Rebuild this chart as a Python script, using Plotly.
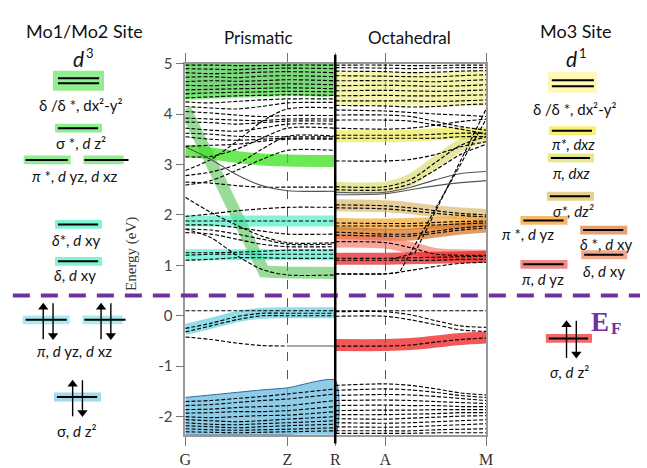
import plotly.graph_objects as go

# ---------------------------------------------------------------- k-path
K_LABELS = ["G", "Z", "R", "A", "M"]
K_TICKS = [0.0, 1.0, 1.47, 1.96, 2.95]
K_PRISM = [0.0, 0.25, 0.5, 0.75, 1.0, 1.47]      # G ... Z ... R
K_OCTA = [1.47, 1.96, 2.21, 2.46, 2.70, 2.95]     # R ... A ... M

Y_MIN, Y_MAX = -2.36, 5.0
Y_TICKS = [-2, -1, 0, 1, 2, 3, 4, 5]
Y_TICK_TEXT = ["-2", "-1", "0", "1", "2", "3", "4", "5"]
E_FERMI = 0.4

# ---------------------------------------------------------------- prismatic bands (eV at K_PRISM)
PRISM_BANDS = [
    [4.97, 4.97, 4.96, 4.96, 4.97, 4.97],
    [4.90, 4.89, 4.88, 4.90, 4.91, 4.90],
    [4.82, 4.80, 4.81, 4.83, 4.84, 4.82],
    [4.73, 4.74, 4.72, 4.75, 4.76, 4.74],
    [4.64, 4.66, 4.65, 4.66, 4.68, 4.66],
    [4.57, 4.56, 4.58, 4.59, 4.60, 4.58],
    [4.48, 4.49, 4.50, 4.51, 4.52, 4.50],
    [4.40, 4.42, 4.43, 4.44, 4.45, 4.44],
    [4.32, 4.34, 4.36, 4.37, 4.38, 4.37],
    [4.24, 4.22, 4.25, 4.28, 4.30, 4.30],
    [4.15, 4.12, 4.10, 4.15, 4.22, 4.23],
    [4.05, 4.02, 3.98, 3.95, 3.97, 3.97],
    [3.92, 3.90, 3.88, 3.87, 3.90, 3.90],
    [3.84, 3.83, 3.80, 3.83, 3.86, 3.86],
    [3.72, 3.68, 3.66, 3.72, 3.80, 3.80],
    [3.62, 3.60, 3.56, 3.55, 3.55, 3.55],
    [3.55, 3.50, 3.48, 3.50, 3.52, 3.52],
    [3.36, 3.38, 3.40, 3.46, 3.50, 3.50],
    [3.15, 3.16, 3.30, 3.52, 3.72, 3.72],
    [2.88, 3.10, 3.45, 3.85, 4.10, 4.12],
    [2.78, 2.85, 3.00, 3.30, 3.56, 3.56],
    [2.59, 2.68, 2.88, 3.10, 3.28, 3.28],
    [2.65, 2.63, 2.58, 2.55, 2.55, 2.55],
    [1.97, 2.02, 2.08, 2.12, 2.15, 2.15],
    [2.35, 2.05, 1.80, 1.58, 1.45, 1.45],
    [1.80, 1.80, 1.75, 1.68, 1.62, 1.62],
    [1.88, 1.88, 1.88, 1.88, 1.88, 1.88],
    [1.72, 1.70, 1.62, 1.52, 1.42, 1.42],
    [1.65, 1.62, 1.52, 1.42, 1.37, 1.37],
    [1.25, 1.25, 1.26, 1.28, 1.30, 1.30],
    [1.20, 1.22, 1.22, 1.22, 1.22, 1.22],
    [1.10, 1.12, 1.15, 1.15, 1.14, 1.14],
    [1.72, 1.55, 1.20, 0.92, 0.81, 0.81],
    [0.10, 0.10, 0.10, 0.10, 0.10, 0.10],
    [-0.25, -0.15, -0.02, 0.05, 0.05, 0.05],
    [-0.32, -0.20, -0.08, 0.00, 0.00, 0.00],
    [-1.70, -1.68, -1.64, -1.60, -1.55, -1.45],
    [-1.78, -1.76, -1.72, -1.68, -1.65, -1.55],
    [-1.86, -1.85, -1.82, -1.80, -1.78, -1.68],
    [-1.93, -1.92, -1.90, -1.90, -1.88, -1.80],
    [-2.00, -2.02, -2.00, -1.98, -1.97, -1.90],
    [-2.06, -2.08, -2.10, -2.08, -2.05, -2.00],
    [-2.12, -2.15, -2.16, -2.14, -2.12, -2.08],
    [-2.18, -2.20, -2.22, -2.20, -2.18, -2.15],
    [-2.24, -2.26, -2.27, -2.26, -2.25, -2.22],
    [-2.30, -2.31, -2.32, -2.31, -2.30, -2.28],
]
PRISM_SOLID = [3.35, 3.10, 2.80, 2.58, 2.48, 2.47]
# band just below E_F: dashed from G to Z, plain line from Z to R
PRISM_LOW_K = [0.0, 0.25, 0.5, 0.75, 1.0]
PRISM_LOW = [-0.42, -0.47, -0.54, -0.59, -0.60]
PRISM_LOW_ZR = [-0.60, -0.60]

# orbital-character highlights, prismatic branch
PRISM_GREEN_BOTTOM = [4.30, 4.32, 4.34, 4.36, 4.38, 4.38]
PRISM_BLUE_TOP = [-1.62, -1.57, -1.52, -1.47, -1.43, -1.28]
PRISM_DIAG_K = [0.0, 0.77, 1.0, 1.47]
PRISM_DIAG = [4.10, 0.88, 0.86, 0.85]
PRISM_PI_STAR = [3.27, 3.22, 3.15, 3.10, 3.08, 3.07]
PRISM_DELTA_STAR = [1.88, 1.88, 1.88, 1.88, 1.88, 1.88]
PRISM_DELTA = [1.21, 1.21, 1.21, 1.21, 1.21, 1.21]
PRISM_PI = [-0.27, -0.15, -0.02, 0.05, 0.06, 0.06]

# ---------------------------------------------------------------- octahedral bands (eV at K_OCTA)
OCTA_BANDS = [
    [4.97, 4.97, 4.96, 4.96, 4.97, 4.97],
    [4.92, 4.91, 4.90, 4.91, 4.92, 4.92],
    [4.85, 4.84, 4.82, 4.83, 4.85, 4.86],
    [4.76, 4.75, 4.74, 4.74, 4.76, 4.78],
    [4.66, 4.66, 4.65, 4.64, 4.66, 4.68],
    [4.56, 4.57, 4.56, 4.55, 4.56, 4.58],
    [4.46, 4.47, 4.46, 4.45, 4.46, 4.48],
    [4.36, 4.37, 4.36, 4.36, 4.37, 4.38],
    [4.26, 4.26, 4.26, 4.25, 4.26, 4.28],
    [4.17, 4.16, 4.14, 4.15, 4.18, 4.20],
    [4.08, 4.06, 4.03, 4.00, 3.98, 3.95],
    [3.98, 3.98, 3.95, 3.85, 3.75, 3.68],
    [3.88, 3.88, 3.86, 3.78, 3.70, 3.60],
    [3.72, 3.70, 3.72, 3.78, 3.85, 3.90],
    [3.58, 3.58, 3.58, 3.60, 3.62, 3.62],
    [3.52, 3.52, 3.52, 3.52, 3.55, 3.55],
    [3.07, 3.07, 3.10, 3.20, 3.35, 3.45],
    [2.56, 2.56, 2.70, 3.05, 3.38, 3.55],
    [2.50, 2.50, 2.62, 2.90, 3.20, 3.40],
    [2.20, 2.18, 2.14, 2.08, 2.03, 2.00],
    [2.14, 2.12, 2.08, 2.03, 1.99, 1.96],
    [1.84, 1.83, 1.83, 1.85, 1.87, 1.88],
    [1.78, 1.78, 1.78, 1.80, 1.82, 1.84],
    [1.66, 1.62, 1.62, 1.68, 1.74, 1.78],
    [1.60, 1.58, 1.58, 1.64, 1.70, 1.74],
    [1.47, 1.45, 1.35, 1.22, 1.20, 1.20],
    [1.14, 1.14, 1.15, 1.16, 1.17, 1.18],
    [1.10, 1.10, 1.10, 1.10, 1.12, 1.12],
    [0.83, 0.83, 0.90, 0.98, 1.04, 1.06],
    [0.10, 0.10, 0.10, 0.10, 0.10, 0.10],
    [0.08, 0.08, 0.02, -0.10, -0.20, -0.23],
    [-0.01, -0.01, -0.08, -0.18, -0.28, -0.31],
    [-0.60, -0.60, -0.58, -0.52, -0.47, -0.44],
    [-1.38, -1.35, -1.38, -1.45, -1.53, -1.57],
    [-1.48, -1.45, -1.47, -1.52, -1.58, -1.62],
    [-1.58, -1.56, -1.57, -1.60, -1.64, -1.68],
    [-1.68, -1.67, -1.68, -1.70, -1.72, -1.74],
    [-1.78, -1.77, -1.78, -1.78, -1.80, -1.80],
    [-1.88, -1.87, -1.87, -1.86, -1.86, -1.86],
    [-1.96, -1.96, -1.95, -1.94, -1.92, -1.92],
    [-2.04, -2.05, -2.03, -2.01, -1.99, -1.98],
    [-2.12, -2.13, -2.12, -2.10, -2.08, -2.06],
    [-2.20, -2.21, -2.20, -2.18, -2.16, -2.14],
    [-2.28, -2.28, -2.28, -2.26, -2.25, -2.24],
    [-2.33, -2.33, -2.33, -2.32, -2.32, -2.32],
]
OCTA_SOLID = [
    [2.45, 2.45, 2.55, 2.70, 2.82, 2.86],
    [2.40, 2.42, 2.50, 2.58, 2.64, 2.68],
]
# two steep, nearly straight bands climbing from A towards M
OCTA_STEEP_K = [[1.47, 1.96, 2.10, 2.95], [2.02, 2.25, 2.95]]
OCTA_STEEP = [[0.83, 0.83, 0.86, 3.90], [1.12, 1.24, 4.10]]

# orbital-character highlights, octahedral branch
OCTA_YELLOW_TOP = [4.84, 4.84, 4.83, 4.83, 4.84, 4.85]
OCTA_YELLOW_BOTTOM = [4.18, 4.18, 4.17, 4.17, 4.18, 4.18]
OCTA_PI_STAR = [3.56, 3.56, 3.57, 3.60, 3.62, 3.62]
OCTA_PI = [2.54, 2.54, 2.70, 3.05, 3.38, 3.58]
OCTA_SIGMA_STAR = [2.19, 2.17, 2.13, 2.07, 2.03, 2.00]
OCTA_PI_STAR_YZ = [1.82, 1.81, 1.82, 1.84, 1.86, 1.87]
OCTA_DELTA_STAR = [1.64, 1.61, 1.61, 1.67, 1.73, 1.77]
OCTA_DELTA = [1.47, 1.45, 1.35, 1.22, 1.20, 1.19]
OCTA_PI_YZ = [1.13, 1.13, 1.14, 1.15, 1.16, 1.17]
OCTA_SIGMA = [-0.58, -0.58, -0.56, -0.51, -0.46, -0.43]

# ---------------------------------------------------------------- schematic d-level energies (eV)
MO12_DX2Y2 = [4.71, 4.61]
MO12_SIGMA_STAR = 3.72
MO12_PI_STAR = 3.09
MO12_DELTA_STAR = 1.81
MO12_DELTA = 1.08
MO12_PI = -0.08
MO12_SIGMA = -1.61

MO3_DX2Y2 = [4.67, 4.55]
MO3_PI_STAR_XZ = 3.67
MO3_PI_XZ = 3.13
MO3_SIGMA_STAR = 2.37
MO3_PI_STAR_YZ = 1.89
MO3_DELTA_STAR = 1.70
MO3_DELTA = 1.21
MO3_PI_YZ = 1.02
MO3_SIGMA = -0.45

# ---------------------------------------------------------------- geometry of the canvas
W, H = 647, 468
PLOT_L, PLOT_R, PLOT_T, PLOT_B = 183, 490, 55, 436
PX_PER_EV = (PLOT_B - PLOT_T) / (Y_MAX - Y_MIN)
Y2_TOP = Y_MAX + PLOT_T / PX_PER_EV
Y2_BOT = Y_MIN - (H - PLOT_B) / PX_PER_EV
BOX_HALF = 4.5 / PX_PER_EV

SANS = "Lato, Carlito, Calibri, sans-serif"
SERIF = "Liberation Serif, Times New Roman, serif"

fig = go.Figure()


def band(k, e, color="black", width=1.15, dash="4px,2px", shape="spline"):
    fig.add_trace(go.Scatter(
        x=k, y=e, mode="lines", hoverinfo="skip", showlegend=False,
        line=dict(color=color, width=width, dash=dash, shape=shape, smoothing=0.8)))


def highlight(k, e, color, width=12, shape="spline"):
    fig.add_trace(go.Scatter(
        x=k, y=e, mode="lines", hoverinfo="skip", showlegend=False,
        line=dict(color=color, width=width, shape=shape, smoothing=0.8)))


def region(k, top, bottom, color, edge=None):
    fig.add_trace(go.Scatter(
        x=list(k) + list(k)[::-1], y=list(top) + list(bottom)[::-1],
        mode="lines", fill="toself", fillcolor=color, hoverinfo="skip",
        showlegend=False,
        line=dict(color=edge or "rgba(0,0,0,0)", width=1, shape="spline", smoothing=0.6)))


# ---- coloured orbital-character regions and ribbons (underneath the bands)
region(K_PRISM, [Y_MAX] * len(K_PRISM), PRISM_GREEN_BOTTOM, "rgba(45,190,45,0.62)")
highlight(K_PRISM, [e + 0.05 for e in PRISM_GREEN_BOTTOM], "rgba(120,235,110,0.55)", width=8)
region(K_PRISM, PRISM_BLUE_TOP, [Y_MIN] * len(K_PRISM), "rgba(110,190,225,0.78)",
       edge="rgba(30,90,140,0.9)")
highlight(PRISM_DIAG_K, PRISM_DIAG, "rgba(70,190,70,0.55)", width=12, shape="linear")
highlight(K_PRISM, PRISM_PI_STAR, "rgba(60,225,30,0.75)")
highlight(K_PRISM, PRISM_DELTA_STAR, "rgba(50,235,190,0.6)", width=11)
highlight(K_PRISM, PRISM_DELTA, "rgba(50,235,200,0.6)", width=11)
highlight(K_PRISM, PRISM_PI, "rgba(70,200,215,0.6)", width=11)

region(K_OCTA, OCTA_YELLOW_TOP, OCTA_YELLOW_BOTTOM, "rgba(238,238,120,0.6)")
highlight(K_OCTA, OCTA_PI_STAR, "rgba(232,232,60,0.62)")
highlight(K_OCTA, OCTA_PI, "rgba(215,215,95,0.62)")
highlight(K_OCTA, OCTA_SIGMA_STAR, "rgba(215,180,95,0.65)")
highlight(K_OCTA, OCTA_PI_STAR_YZ, "rgba(242,165,45,0.7)")
highlight(K_OCTA, OCTA_DELTA_STAR, "rgba(212,112,30,0.7)")
highlight(K_OCTA, OCTA_DELTA, "rgba(245,110,90,0.62)")
highlight(K_OCTA, OCTA_PI_YZ, "rgba(230,30,30,0.72)")
highlight(K_OCTA, OCTA_SIGMA, "rgba(240,40,40,0.78)")

# ---- DFT bands
for e in PRISM_BANDS:
    band(K_PRISM, e)
band(K_PRISM, PRISM_SOLID, color="#555", width=1.1, dash="solid")
band(PRISM_LOW_K, PRISM_LOW)
band(K_PRISM[-2:], PRISM_LOW_ZR, color="#555", width=1.1, dash="solid", shape="linear")
for e in OCTA_BANDS:
    band(K_OCTA, e)
for e in OCTA_SOLID:
    band(K_OCTA, e, color="#555", width=1.1, dash="solid")
for k, e in zip(OCTA_STEEP_K, OCTA_STEEP):
    band(k, e, shape="linear")

shapes = []
annotations = []


def level(x0, x1, e, box_color, lx0=None, lx1=None, box_lo=None, box_hi=None, lines=None):
    lo = box_lo if box_lo is not None else e - BOX_HALF
    hi = box_hi if box_hi is not None else e + BOX_HALF
    shapes.append(dict(type="rect", xref="x2", yref="y2", x0=x0, x1=x1, y0=lo, y1=hi,
                       fillcolor=box_color, line=dict(width=0), layer="below"))
    for le in (lines if lines is not None else [e]):
        shapes.append(dict(type="line", xref="x2", yref="y2",
                           x0=lx0 if lx0 is not None else x0 + 3,
                           x1=lx1 if lx1 is not None else x1 - 4,
                           y0=le, y1=le, line=dict(color="black", width=2), layer="below"))


def text(x, e, s, size=15, font=SANS, color="#111", **kw):
    annotations.append(dict(xref="x2", yref="y2", x=x, y=e, text=s, showarrow=False,
                            font=dict(family=font, size=size, color=color), **kw))


def spin(x, tail, head):
    """Electron spin arrow drawn as a stem plus a triangular head."""
    up = head > tail
    sgn = 1 if up else -1
    fig.add_trace(go.Scatter(x=[x, x], y=[tail, head - sgn * 5 / PX_PER_EV],
                             xaxis="x2", yaxis="y2", mode="lines",
                             line=dict(color="black", width=1.4),
                             hoverinfo="skip", showlegend=False))
    fig.add_trace(go.Scatter(x=[x], y=[head - sgn * 4 / PX_PER_EV],
                             xaxis="x2", yaxis="y2", mode="markers",
                             marker=dict(symbol="triangle-up" if up else "triangle-down",
                                         size=9, color="black", line=dict(width=0)),
                             hoverinfo="skip", showlegend=False))


def e_of(px):
    return Y_MAX - (px - PLOT_T) / PX_PER_EV


# ---- Mo1/Mo2 site column
GREEN = "#90ee90"
AQUA = "#7ff5d6"
level(48, 100, sum(MO12_DX2Y2) / 2, GREEN, lx0=53, lx1=95,
      box_lo=MO12_DX2Y2[1] - 0.15, box_hi=MO12_DX2Y2[0] + 0.15, lines=MO12_DX2Y2)
level(50, 98, MO12_SIGMA_STAR, GREEN)
level(18, 66, MO12_PI_STAR, GREEN, lx0=20, lx1=63)
level(79, 120, MO12_PI_STAR, GREEN, lx0=80, lx1=125)
level(50, 98, MO12_DELTA_STAR, AQUA)
level(50, 98, MO12_DELTA, AQUA)
level(17, 65, MO12_PI, "#a8ecf2", lx0=20, lx1=62)
level(78, 119, MO12_PI, "#a8ecf2", lx0=80, lx1=122)
level(49, 97, MO12_SIGMA, "#a3d9ec")

spin(38, e_of(338), e_of(301))
spin(48, e_of(301), e_of(338))
spin(97, e_of(338), e_of(301))
spin(107, e_of(301), e_of(338))
spin(68, e_of(417), e_of(380))
spin(78, e_of(380), e_of(417))

text(80, e_of(22), "Mo1/Mo2 Site", size=18)
text(74, e_of(50), "<i>d</i>", size=21)
text(86, e_of(44), "3", size=13)
text(76, e_of(98), "δ /δ *, dx²-y²")
text(77, e_of(136), "σ *, <i>d</i> z²")
text(70, e_of(170), "<i>π</i> *, <i>d</i> yz, <i>d</i> xz")
text(72, e_of(236), "<i>δ</i>*, <i>d</i> xy")
text(70, e_of(272), "<i>δ</i>, <i>d</i> xy")
text(70, e_of(350), "<i>π</i>, <i>d</i> yz, <i>d</i> xz")
text(72, e_of(432), "σ, <i>d</i> z²")

# ---- Mo3 site column
level(553, 603, sum(MO3_DX2Y2) / 2, "#fff7b5", lx0=557, lx1=600,
      box_lo=MO3_DX2Y2[1] - 0.13, box_hi=MO3_DX2Y2[0] + 0.17, lines=MO3_DX2Y2)
level(554, 602, MO3_PI_STAR_XZ, "#f8f070")
level(553, 600, MO3_PI_XZ, "#e6e68a")
level(552, 600, MO3_SIGMA_STAR, "#e8d08c")
level(525, 573, MO3_PI_STAR_YZ, "#f8b868")
level(586, 634, MO3_DELTA_STAR, "#e8a070")
level(587, 634, MO3_DELTA, "#f2a88a")
level(525, 573, MO3_PI_YZ, "#f08888")
level(551, 598, MO3_SIGMA, "#f26868")

spin(572, e_of(357), e_of(319))
spin(582, e_of(319), e_of(357))

text(582, e_of(22), "Mo3 Site", size=18)
text(577, e_of(50), "<i>d</i>", size=21)
text(589, e_of(44), "1", size=13)
text(580, e_of(102), "δ /δ *, dx²-y²")
text(579, e_of(138), "<i>π*, dxz</i>")
text(577, e_of(167), "<i>π, dxz</i>")
text(580, e_of(206), "<i>σ*, dz²</i>")
text(533, e_of(230), "<i>π</i> *, <i>d</i> yz")
text(612, e_of(240), "<i>δ</i> *, <i>d</i> xy")
text(610, e_of(268), "<i>δ</i>, <i>d</i> xy")
text(548, e_of(276), "<i>π</i>, <i>d</i> yz")
text(575, e_of(372), "<i>σ</i>, <i>d</i> z²")

# ---- panel titles, axis title, Fermi level
text(258, e_of(28), "Prismatic", size=17)
text(412, e_of(28), "Octahedral", size=17)
text(128, e_of(250), "Energy (eV)", size=15, font=SERIF, color="#333", textangle=-90)
text(606, e_of(320), "<b>E</b>", size=27, font=SERIF, color="#7030a0")
text(622, e_of(327), "<b>F</b>", size=17, font=SERIF, color="#7030a0")

shapes.append(dict(type="line", xref="x2", yref="y2", x0=7, x1=W, y0=E_FERMI, y1=E_FERMI,
                   line=dict(color="#7030a0", width=4, dash="17px,11px"), layer="above"))
# prismatic / octahedral boundary at R
shapes.append(dict(type="line", xref="x", yref="y2", x0=K_TICKS[2], x1=K_TICKS[2],
                   y0=e_of(PLOT_B + 9), y1=e_of(PLOT_T - 9),
                   line=dict(color="black", width=2.5), layer="above"))

fig.update_layout(
    width=W, height=H,
    margin=dict(l=0, r=0, t=0, b=0),
    paper_bgcolor="white", plot_bgcolor="rgba(0,0,0,0)",
    shapes=shapes, annotations=annotations,
    xaxis=dict(domain=[PLOT_L / W, PLOT_R / W], range=[K_TICKS[0], K_TICKS[-1]],
               tickvals=K_TICKS, ticktext=K_LABELS, ticks="outside", ticklen=9,
               tickcolor="#777", tickwidth=1.2,
               tickfont=dict(family=SERIF, size=16, color="#333"),
               showgrid=True, gridcolor="#555", griddash="dash", gridwidth=1,
               showline=True, linecolor="#999", linewidth=1.6, mirror="ticks",
               zeroline=False, fixedrange=True),
    yaxis=dict(domain=[(H - PLOT_B) / H, (H - PLOT_T) / H], range=[Y_MIN, Y_MAX],
               tickvals=Y_TICKS, ticktext=Y_TICK_TEXT, ticks="outside", ticklen=8,
               tickcolor="#777", tickwidth=1.2,
               tickfont=dict(family=SANS, size=15, color="#444"),
               showgrid=False, showline=True, linecolor="#999", linewidth=1.6,
               mirror=True, zeroline=False, fixedrange=True),
    xaxis2=dict(domain=[0, 1], range=[0, W], visible=False, anchor="y2", fixedrange=True),
    yaxis2=dict(domain=[0, 1], range=[Y2_BOT, Y2_TOP], visible=False, anchor="x2",
                fixedrange=True),
)

fig.write_html("out.html")
